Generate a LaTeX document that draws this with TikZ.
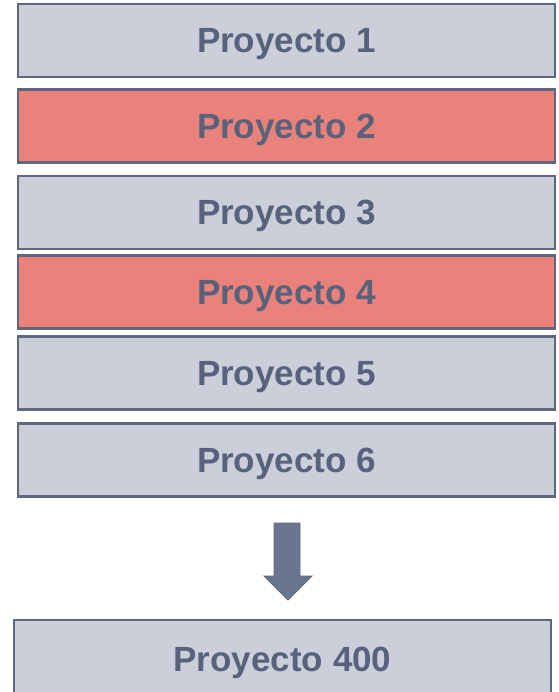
\documentclass[tikz,border=0pt]{standalone}
\usepackage{fontspec}
\setmainfont{Liberation Sans}
\definecolor{boxgray}{HTML}{CBCFD9}
\definecolor{boxred}{HTML}{E8827A}
\definecolor{edgeblue}{HTML}{5F6780}
\definecolor{textblue}{HTML}{58627D}
\definecolor{arrowblue}{HTML}{6B7590}
\begin{document}
\begin{tikzpicture}[x=1pt,y=-1pt,
  projbox/.style={draw=edgeblue,line width=2.2pt,minimum width=537pt,minimum height=73pt,inner sep=0pt,
    text depth=0pt,font=\fontsize{35}{40}\selectfont\bfseries,text=textblue},
  grayfill/.style={projbox,fill=boxgray},
  redfill/.style={projbox,fill=boxred}]
\useasboundingbox (0,0) rectangle (558,692);
\node[grayfill] (p1) at (286.5,40.5) {Proyecto 1};
\node[redfill]  (p2) at (286.5,126) {Proyecto 2};
\node[grayfill] (p3) at (286.5,212.5) {Proyecto 3};
\node[redfill]  (p4) at (286.5,292) {Proyecto 4};
\node[grayfill] (p5) at (286.5,373) {Proyecto 5};
\node[grayfill] (p6) at (286.5,460) {Proyecto 6};
\node[grayfill,minimum height=78pt] (p400) at (282.5,659) {Proyecto 400};
\draw[fill=arrowblue,draw=edgeblue,line width=0.8pt,line join=miter]
  (274,523) -- (300,523) -- (300,576) -- (312,576) -- (288,600) -- (264,576) -- (274,576) -- cycle;
\end{tikzpicture}
\end{document}
